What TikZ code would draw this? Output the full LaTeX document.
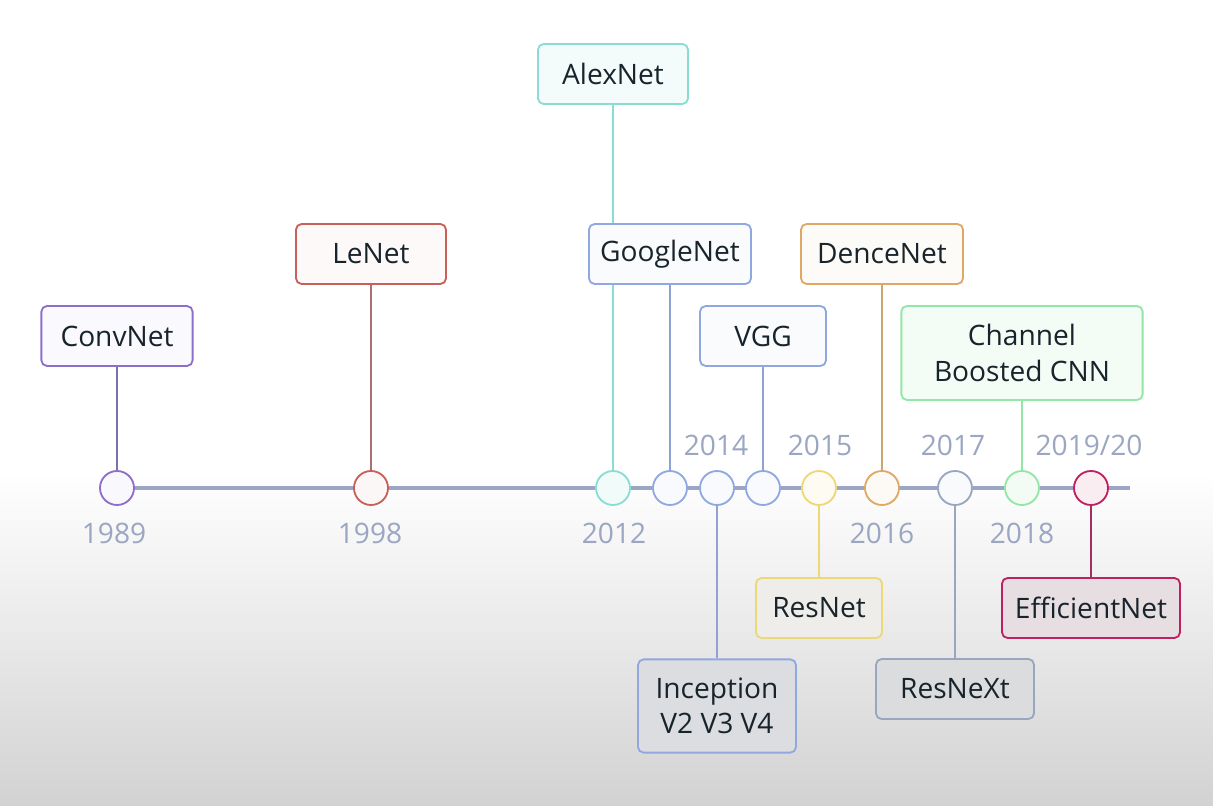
\documentclass[tikz,border=0pt]{standalone}
\usepackage{fontspec}
\setmainfont{Open Sans}
\usetikzlibrary{backgrounds}

\definecolor{ink}{HTML}{18242C}
\definecolor{yeargray}{HTML}{9BA6C2}
\definecolor{axisgray}{HTML}{9AA6C4}
\definecolor{bggray}{HTML}{D2D2D2}
\definecolor{purpleb}{HTML}{8C6FCB}
\definecolor{purplel}{HTML}{7F6FAF}
\definecolor{redb}{HTML}{C8605A}
\definecolor{redl}{HTML}{A87070}
\definecolor{tealb}{HTML}{8ADDD5}
\definecolor{blueb}{HTML}{8FA8E0}
\definecolor{bluel}{HTML}{90A2D2}
\definecolor{orangeb}{HTML}{E0A865}
\definecolor{orangel}{HTML}{C8A870}
\definecolor{greenb}{HTML}{92E6A6}
\definecolor{yellowb}{HTML}{EDD878}
\definecolor{slateb}{HTML}{98A6C0}
\definecolor{pinkb}{HTML}{C0205F}
\definecolor{pinkl}{HTML}{A0305E}

\begin{document}
\begin{tikzpicture}[x=0.025cm,y=-0.025cm]
    \tikzstyle{block}=[draw,line width=1.3pt,rounded corners=4pt,align=center,minimum height=1.5cm,inner sep=2pt,text=ink,font=\fontsize{20}{25}\selectfont]
    \tikzstyle{dot}=[circle,draw,line width=1.3pt,minimum size=0.85cm,inner sep=0pt]
    \tikzstyle{year}=[text=yeargray,font=\fontsize{20}{24}\selectfont]
    \tikzstyle{link}=[line width=1.1pt]

    \useasboundingbox (0,0) rectangle (1213,806);
    \begin{scope}[on background layer]
        \fill[white] (0,0) rectangle (1213,472);
        \shade[top color=white,bottom color=bggray] (0,472) rectangle (1213,806);
    \end{scope}

    % points on the time line
    \node[dot,draw=purpleb,fill=purpleb!5] (c1989) at (117,488) {};
    \node[dot,draw=redb,fill=redb!5] (c1998) at (371,488) {};
    \node[dot,draw=tealb,fill=tealb!12] (c2012) at (613,488) {};
    \node[dot,draw=blueb,fill=blueb!6] (cgoogle) at (670,488) {};
    \node[dot,draw=blueb,fill=blueb!6] (cincep) at (717,488) {};
    \node[dot,draw=blueb,fill=blueb!6] (cvgg) at (763,488) {};
    \node[dot,draw=yellowb,fill=yellowb!10] (cresnet) at (819,488) {};
    \node[dot,draw=orangeb,fill=orangeb!6] (cdence) at (882,488) {};
    \node[dot,draw=slateb,fill=slateb!6] (cresnext) at (955,488) {};
    \node[dot,draw=greenb,fill=greenb!12] (cchannel) at (1022,488) {};
    \node[dot,draw=pinkb,fill=pinkb!8] (cefficient) at (1091,488) {};
    \coordinate (tlend) at (1130,488);

    % boxes above
    \node[block,draw=purpleb,fill=purpleb!4,minimum width=3.78cm] (convnet) at (117,336) {ConvNet};
    \node[block,draw=redb,fill=redb!4,minimum width=3.75cm] (lenet) at (371,254) {LeNet};
    \node[block,draw=tealb,fill=tealb!10,minimum width=3.75cm] (alexnet) at (613,74) {AlexNet};
    \node[block,draw=blueb,fill=blueb!5,minimum width=4.05cm] (googlenet) at (670,254) {GoogleNet};
    \node[block,draw=blueb,fill=blueb!5,minimum width=3.15cm] (vgg) at (763,336) {VGG};
    \node[block,draw=orangeb,fill=orangeb!5,minimum width=4.05cm] (dencenet) at (882,254) {DenceNet};
    \node[block,draw=greenb,fill=greenb!10,minimum width=6.03cm,minimum height=2.35cm] (channel) at (1022,353) {Channel\\ Boosted CNN};

    % boxes below
    \node[block,draw=yellowb,fill=yellowb!10!bggray!40,minimum width=3.15cm] (resnet) at (819,608) {ResNet};
    \node[block,draw=blueb,fill=blueb!10!bggray!70,minimum width=3.95cm,minimum height=2.33cm] (inception) at (717,706) {Inception\\ V2 V3 V4};
    \node[block,draw=slateb,fill=slateb!10!bggray!70,minimum width=3.95cm] (resnext) at (955,689) {ResNeXt};
    \node[block,draw=pinkb,fill=pinkb!12!bggray!50,minimum width=4.45cm] (efficientnet) at (1091,608) {EfficientNet};

    % years
    \node[year] (y1989) at (114,533) {1989};
    \node[year] (y1998) at (370,533) {1998};
    \node[year] (y2012) at (614,533) {2012};
    \node[year] (y2014) at (716,445) {2014};
    \node[year] (y2015) at (820,445) {2015};
    \node[year] (y2016) at (882,533) {2016};
    \node[year] (y2017) at (953,445) {2017};
    \node[year] (y2018) at (1022,533) {2018};
    \node[year] (y2019) at (1089,445) {2019/20};

    \begin{scope}[on background layer]
        \draw[axisgray,line width=3.5pt] (c1989.center) -- (tlend);
        \draw[link,purplel] (convnet) -- (c1989);
        \draw[link,redl] (lenet) -- (c1998);
        \draw[link,tealb] (alexnet) -- (c2012);
        \draw[link,bluel] (googlenet) -- (cgoogle);
        \draw[link,bluel] (vgg) -- (cvgg);
        \draw[link,orangel] (dencenet) -- (cdence);
        \draw[link,greenb] (channel) -- (cchannel);
        \draw[link,yellowb] (cresnet) -- (resnet);
        \draw[link,bluel] (cincep) -- (inception);
        \draw[link,slateb] (cresnext) -- (resnext);
        \draw[link,pinkl] (cefficient) -- (efficientnet);
    \end{scope}
\end{tikzpicture}
\end{document}
